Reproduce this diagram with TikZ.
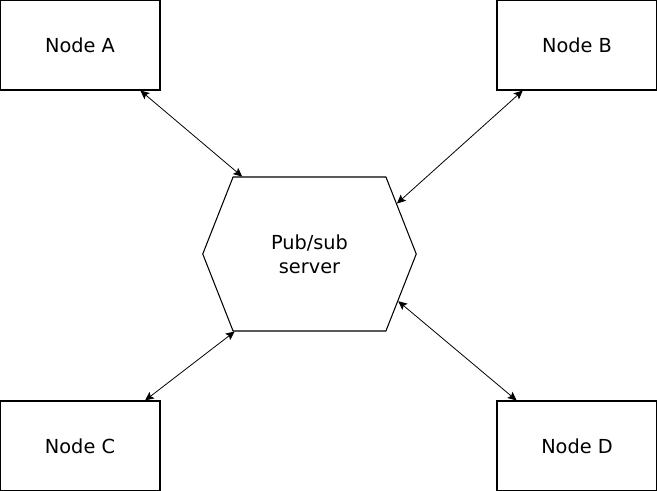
\documentclass[tikz,border=0pt]{standalone}
\usepackage{fontspec}
\setmainfont{DejaVu Sans}
\usepackage{tikz}
\usetikzlibrary{arrows.meta,shapes.symbols}

\begin{document}
\begin{tikzpicture}[
    client/.style={draw, line width=0.6pt, minimum width=3.2cm, minimum height=1.8cm, inner sep=0pt},
    hub/.style={draw, line width=0.6pt, signal, signal to=west and east, signal pointer angle=137,
                minimum width=4.27cm, minimum height=3.08cm, inner sep=0pt, align=center},
    link/.style={line width=0.45pt, {Stealth[length=5pt,width=4.6pt,inset=1pt]}-{Stealth[length=5pt,width=4.6pt,inset=1pt]}},
    font=\fontsize{11pt}{13.5pt}\selectfont]
     \useasboundingbox (0,0) rectangle (13.14,-9.82);
     \node[client] (nodeA) at (1.6,-0.9) {Node A};
     \node[client] (nodeB) at (11.54,-0.9) {Node B};
     \node[client] (nodeC) at (1.6,-8.92) {Node C};
     \node[client] (nodeD) at (11.54,-8.92) {Node D};
     \node[hub] (server) at (6.19,-5.08) {Pub/sub\\server};
     \draw[link] (nodeA.-37) -- (server.131);
     \draw[link] (nodeB.220) -- (server.30);
     \draw[link] (nodeC.35) -- (server.226);
     \draw[link] (nodeD.143) -- (server.332);
\end{tikzpicture}
\end{document}
